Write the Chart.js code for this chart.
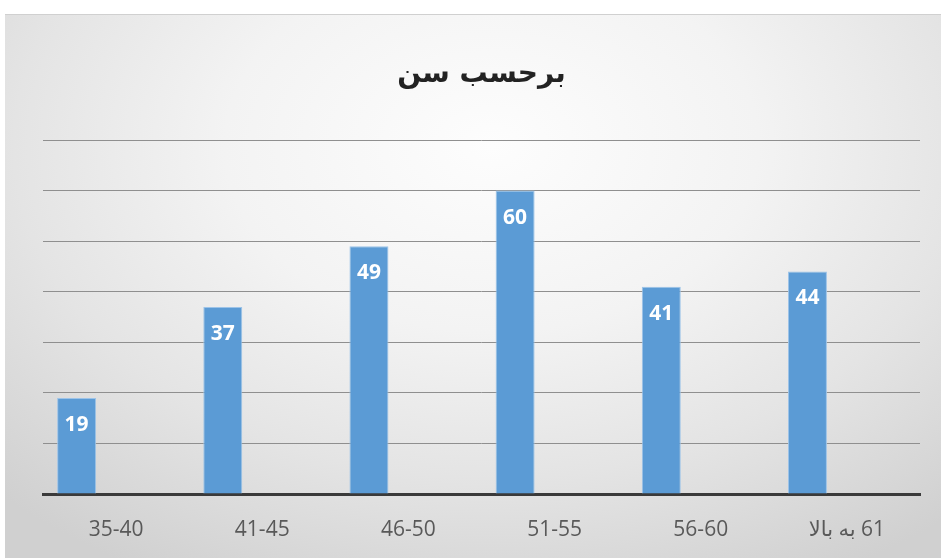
<!DOCTYPE html>
<html>
<head>
<meta charset="utf-8">
<script src="https://cdn.jsdelivr.net/npm/chart.js@4/dist/chart.umd.min.js"></script>
<style>
    body { margin: 0; background: #ffffff; }
    #frame {
        position: absolute; left: 5px; top: 14px; width: 936px; height: 544px;
        background: radial-gradient(ellipse 75% 90% at 52% 24%, #fdfdfd 0%, #f3f3f3 38%, #e4e4e4 68%, #d0d0d0 100%);
        border-top: 1px solid #d0d0d0;
    }
    #wrap { position: absolute; left: 0; top: 0; width: 941px; height: 558px; }
</style>
</head>
<body>
<div id="frame"></div>
<div id="wrap"><canvas id="chart" width="941" height="558"></canvas></div>
<script>
var categories = ['35-40', '41-45', '46-50', '51-55', '56-60', '\u200F61 به بالا'];
var values = [19, 37, 49, 60, 41, 44];
var yTicks = [0, 10, 20, 30, 40, 50, 60, 70];
var title = 'برحسب سن';

// etiquetas blancas dentro de cada barra
var barLabels = {
    id: 'barLabels',
    afterDatasetsDraw: function (chart) {
        var ctx = chart.ctx;
        var meta = chart.getDatasetMeta(0);
        ctx.save();
        ctx.fillStyle = '#ffffff';
        ctx.font = 'bold 21px "Open Sans", "DejaVu Sans", sans-serif';
        ctx.textAlign = 'center';
        ctx.textBaseline = 'middle';
        meta.data.forEach(function (bar, i) {
            ctx.fillText(String(values[i]), bar.x, bar.y + 27);
        });
        ctx.restore();
    }
};

var chart = new Chart(document.getElementById('chart').getContext('2d'), {
    type: 'bar',
    data: {
        labels: categories,
        datasets: [{
            data: values,
            backgroundColor: '#5b9bd5',
            borderColor: '#9cc3e8',
            borderWidth: 1,
            categoryPercentage: 1.08,
            barPercentage: 0.494
        }, {
            data: values.map(function () { return null; }),
            backgroundColor: '#5b9bd5',
            categoryPercentage: 1.08,
            barPercentage: 0.494
        }]
    },
    options: {
        responsive: false,
        animation: false,
        layout: {
            padding: { top: 14, left: 43, right: 21, bottom: 0 }
        },
        plugins: {
            legend: { display: false },
            tooltip: { enabled: false },
            title: {
                display: true,
                text: title,
                color: '#222222',
                font: { family: '"DejaVu Sans", sans-serif', size: 28, weight: 'bold' },
                padding: { top: 44, bottom: 48.4 }
            }
        },
        scales: {
            x: {
                afterFit: function (scale) { scale.height = 64; },
                grid: { display: false, drawTicks: false },
                border: { display: true, color: '#3a3a3a', width: 3 },
                ticks: {
                    color: '#595959',
                    padding: 26,
                    font: { family: '"Open Sans", "DejaVu Sans", sans-serif', size: 21, lineHeight: 1 }
                }
            },
            y: {
                min: 0,
                max: 70,
                afterBuildTicks: function (axis) {
                    axis.ticks = yTicks.map(function (v) { return { value: v }; });
                },
                grid: { color: '#8f8f8f', lineWidth: 1, drawTicks: false },
                border: { display: false },
                ticks: { display: false }
            }
        }
    },
    plugins: [barLabels]
});
</script>
</body>
</html>
